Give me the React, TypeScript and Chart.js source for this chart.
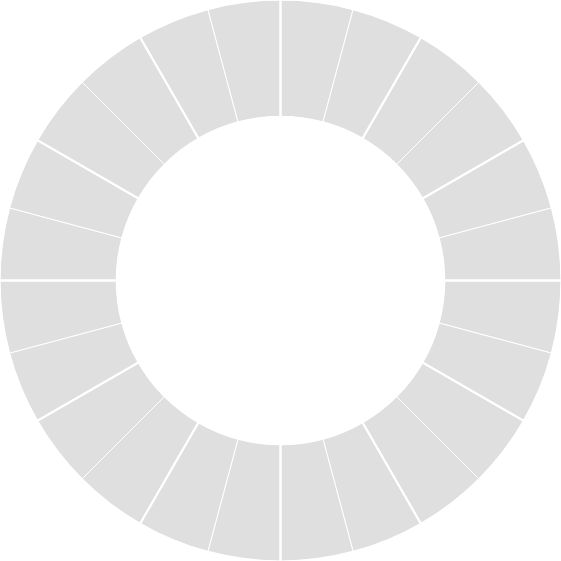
import React, { useEffect, useRef } from 'react';
import { Chart, registerables } from 'chart.js';

Chart.register(...registerables);

// 24 equal sectors (every 15°) and 12 major groups (every 30°)
const minorLabels = [
  'S1', 'S2', 'S3', 'S4', 'S5', 'S6', 'S7', 'S8', 'S9', 'S10', 'S11', 'S12',
  'S13', 'S14', 'S15', 'S16', 'S17', 'S18', 'S19', 'S20', 'S21', 'S22', 'S23', 'S24',
];
const minorValues = [1, 1, 1, 1, 1, 1, 1, 1, 1, 1, 1, 1, 1, 1, 1, 1, 1, 1, 1, 1, 1, 1, 1, 1];
const majorValues = [1, 1, 1, 1, 1, 1, 1, 1, 1, 1, 1, 1];

const RING_OUTER = 1.005; // outer edge of the ring as a fraction of the chart radius
const RING_INNER = 0.586; // inner edge of the ring as a fraction of the chart radius
const SLICE_COLOR = '#dfdfdf';

export default function App() {
  const canvasRef = useRef<HTMLCanvasElement | null>(null);

  useEffect(() => {
    document.body.style.margin = '0';
    const canvas = canvasRef.current;
    if (!canvas) return;
    // Both rings share one band: the overlay ring uses the outer part of its own band,
    // the sector ring uses the inner part of a larger band.
    const overlayRadius = RING_OUTER * 100;
    const overlayCutout = ((2 * RING_INNER) / RING_OUTER - 1) * 100;
    const sectorRadius = (2 * RING_OUTER - RING_INNER) * 100;
    const sectorCutout = (RING_INNER / (2 * RING_OUTER - RING_INNER)) * 100;

    const chart = new Chart(canvas, {
      type: 'doughnut',
      data: {
        labels: minorLabels,
        datasets: [
          {
            data: majorValues,
            backgroundColor: 'rgba(0,0,0,0)',
            borderColor: '#ffffff',
            borderWidth: 2,
            hoverOffset: 0,
            radius: overlayRadius + '%',
            cutout: overlayCutout + '%',
          } as any,
          {
            data: minorValues,
            backgroundColor: SLICE_COLOR,
            borderColor: '#ffffff',
            borderWidth: 1,
            hoverOffset: 0,
            radius: sectorRadius + '%',
            cutout: sectorCutout + '%',
          } as any,
        ],
      },
      options: {
        animation: false,
        responsive: true,
        maintainAspectRatio: false,
        events: [],
        layout: { padding: 0 },
        plugins: {
          legend: { display: false },
          tooltip: { enabled: false },
        },
      },
    });
    return () => chart.destroy();
  }, []);

  return (
    <div style={{ position: 'absolute', left: 0, top: 0, width: 561, height: 561 }}>
      <canvas ref={canvasRef} />
    </div>
  );
}
